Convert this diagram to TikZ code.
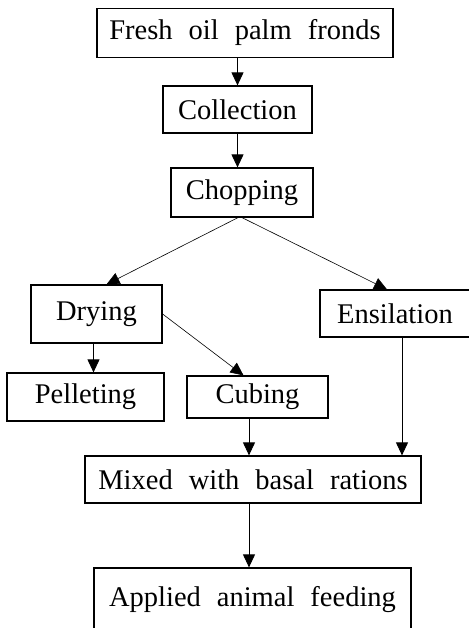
\documentclass[tikz,border=0pt]{standalone}
\usepackage{fontspec}
\setmainfont{Liberation Serif}
\usetikzlibrary{arrows.meta}

\newcommand\stagefont{\fontsize{28.5}{30}\selectfont\spaceskip 16pt\relax}

\tikzset{
	stage/.style={draw, line width=1.2pt, inner sep=0pt, font=\stagefont},
	flow/.style={line width=0.9pt, -{Triangle[length=13pt,width=12pt]}},
	branch/.style={flow, line width=0.6pt},
}

\begin{document}
\begin{tikzpicture}[x=1pt, y=-1pt]
	\useasboundingbox (0,0) rectangle (468,628);
\node[stage, minimum width=296pt, minimum height=49pt] (fresh) at (245,33) {Fresh oil palm fronds};
\node[stage, minimum width=149pt, minimum height=47pt] (collect) at (237.5,109.5) {Collection};
\node[stage, minimum width=142pt, minimum height=49pt] (chop) at (242,192.5) {Chopping};
\node[stage, minimum width=131pt, minimum height=58pt] (dry) at (96.5,314) {Drying};
\node[stage, minimum width=150pt, minimum height=47pt] (ensil) at (395,313.5) {Ensilation};
\node[stage, minimum width=157pt, minimum height=48pt] (pellet) at (85.5,397) {Pelleting};
\node[stage, minimum width=141pt, minimum height=42pt] (cube) at (257.5,397) {Cubing};
\node[stage, minimum width=336pt, minimum height=47pt] (mixed) at (253,479.5) {Mixed with basal rations};
\node[stage, minimum width=317pt, minimum height=64pt] (applied) at (252.5,600) {Applied animal feeding};

\draw[flow] (collect.north |- fresh.south) -- (collect.north);
\draw[flow] (collect.south) -- (collect.south |- chop.north);
\draw[branch] ([xshift=-4pt]chop.south) -- ([xshift=10pt]dry.north);
\draw[branch] (chop.south) -- ([xshift=-8pt]ensil.north);
\draw[flow] ([xshift=-3pt]dry.south) -- ([xshift=-3pt]dry.south |- pellet.north);
\draw[branch] (dry.east) -- ([xshift=-14pt]cube.north);
\draw[flow] ([xshift=-8.5pt]cube.south) -- ([xshift=-8.5pt]cube.south |- mixed.north);
\draw[flow] ([xshift=7pt]ensil.south) -- ([xshift=7pt]ensil.south |- mixed.north);
\draw[flow] ([xshift=-4pt]mixed.south) -- ([xshift=-4pt]mixed.south |- applied.north);
\end{tikzpicture}
\end{document}
